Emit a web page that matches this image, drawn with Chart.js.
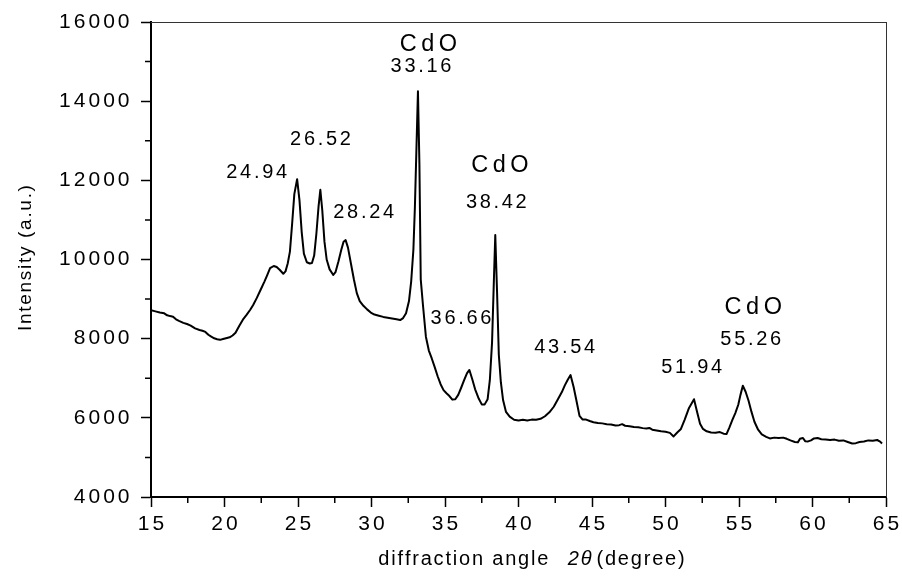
<!DOCTYPE html>
<html>
<head>
<meta charset="utf-8">
<script src="https://cdn.jsdelivr.net/npm/chart.js@4.4.1/dist/chart.umd.min.js"></script>
<style>
  html, body { margin: 0; padding: 0; background: #fff; }
  canvas { display: block; }
</style>
</head>
<body>
<canvas id="xrd" width="902" height="577"></canvas>
<script>
// XRD pattern: diffraction angle 2θ (degree) vs intensity (a.u.)
const angle = [
  15.0, 15.3, 15.6, 15.9, 16.1, 16.3, 16.5, 16.7, 16.9, 17.2, 17.45, 17.7, 18.0, 18.3, 18.5, 18.7, 18.9, 19.1, 19.3, 19.5,
  19.7, 19.9, 20.1, 20.35, 20.55, 20.75, 21.0, 21.25, 21.5, 21.75, 21.95, 22.2, 22.45, 22.7, 22.9, 23.1, 23.35, 23.55, 23.75, 24.0,
  24.15, 24.3, 24.45, 24.6, 24.75, 24.94, 25.1, 25.25, 25.4, 25.6, 25.8, 25.95, 26.1, 26.25, 26.4, 26.52, 26.65, 26.8, 26.95, 27.15,
  27.4, 27.55, 27.75, 27.95, 28.1, 28.24, 28.4, 28.6, 28.8, 29.0, 29.2, 29.45, 29.7, 29.95, 30.2, 30.5, 30.8, 31.1, 31.4, 31.7,
  31.95, 32.15, 32.35, 32.55, 32.7, 32.85, 32.95, 33.05, 33.16, 33.26, 33.35, 33.5, 33.7, 33.9, 34.1, 34.3, 34.5, 34.7, 34.9, 35.1,
  35.3, 35.5, 35.7, 35.9, 36.1, 36.3, 36.5, 36.66, 36.85, 37.05, 37.3, 37.5, 37.7, 37.9, 38.05, 38.2, 38.32, 38.42, 38.54, 38.66,
  38.8, 38.95, 39.15, 39.4, 39.7, 40.0, 40.3, 40.6, 40.9, 41.2, 41.5, 41.8, 42.1, 42.4, 42.7, 42.95, 43.15, 43.35, 43.54, 43.75,
  43.95, 44.15, 44.35, 44.6, 44.85, 45.1, 45.4, 45.7, 46.0, 46.3, 46.6, 46.85, 47.05, 47.25, 47.55, 47.85, 48.15, 48.45, 48.7, 48.9,
  49.1, 49.4, 49.7, 50.0, 50.3, 50.55, 50.8, 51.05, 51.3, 51.6, 51.94, 52.15, 52.35, 52.55, 52.8, 53.1, 53.4, 53.7, 53.95, 54.15,
  54.35, 54.55, 54.75, 54.95, 55.1, 55.26, 55.45, 55.65, 55.85, 56.05, 56.3, 56.55, 56.85, 57.1, 57.4, 57.7, 58.0, 58.25, 58.5, 58.8,
  59.0, 59.15, 59.35, 59.5, 59.7, 59.9, 60.1, 60.35, 60.6, 60.9, 61.2, 61.5, 61.8, 62.1, 62.4, 62.7, 62.95, 63.2, 63.5, 63.8,
  64.1, 64.4, 64.6, 64.73
];
const intensity = [
  8720, 8690, 8660, 8640, 8590, 8570, 8555, 8490, 8450, 8400, 8370, 8330, 8260, 8220, 8200, 8170, 8100, 8050, 8010, 7985,
  7970, 7990, 8010, 8035, 8080, 8150, 8320, 8480, 8600, 8730, 8850, 9030, 9230, 9430, 9600, 9780, 9836, 9810, 9740, 9640,
  9700, 9900, 10200, 10900, 11650, 12030, 11500, 10700, 10150, 9930, 9900, 9910, 10100, 10650, 11350, 11760, 11250, 10450, 10000, 9750,
  9610, 9680, 9950, 10250, 10450, 10490, 10300, 9900, 9500, 9150, 8950, 8830, 8740, 8660, 8610, 8580, 8550, 8530, 8510, 8490,
  8470, 8520, 8640, 8950, 9450, 10250, 11300, 12700, 14250, 12400, 9500, 8850, 8050, 7700, 7500, 7280, 7050, 6850, 6700, 6620,
  6550, 6460, 6470, 6580, 6760, 6950, 7130, 7210, 6980, 6720, 6480, 6340, 6340, 6470, 6950, 7900, 9400, 10620, 9200, 7600,
  6900, 6450, 6150, 6030, 5950, 5930, 5950, 5935, 5955, 5950, 5975, 6040, 6140, 6280, 6480, 6650, 6820, 6960, 7080, 6780,
  6420, 6050, 5960, 5955, 5920, 5890, 5870, 5860, 5840, 5830, 5805, 5815, 5840, 5800, 5790, 5770, 5760, 5740, 5730, 5745,
  5700, 5680, 5660, 5650, 5620, 5530, 5630, 5720, 5950, 6250, 6470, 6150, 5850, 5720, 5660, 5630, 5625, 5640, 5600, 5590,
  5760, 5950, 6120, 6330, 6580, 6810, 6660, 6430, 6150, 5900, 5700, 5580, 5520, 5480, 5500, 5490, 5500, 5470, 5430, 5390,
  5380, 5470, 5490, 5410, 5405, 5430, 5480, 5490, 5460, 5455, 5440, 5450, 5420, 5430, 5390, 5350, 5360, 5390, 5400, 5430,
  5420, 5440, 5400, 5350
];

// Axis ticks
const xTickValues = [15, 20, 25, 30, 35, 40, 45, 50, 55, 60, 65];
const xMinorValues = [17.5, 22.5, 27.5, 32.5, 37.5, 42.5, 47.5, 52.5, 57.5, 62.5];
const yTickValues = [4000, 6000, 8000, 10000, 12000, 14000, 16000];
const yMinorValues = [5000, 7000, 9000, 11000, 13000, 15000];

// Peak annotations (text, anchor angle, anchor intensity)
const peakText = ['24.94', '26.52', '28.24', '33.16', '36.66', '38.42', '43.54', '51.94', '55.26'];
const peakLabelX = [22.19, 26.53, 29.47, 33.37, 36.09, 38.49, 43.14, 51.78, 55.80];
const peakLabelY = [12190, 13020, 11180, 14870, 8500, 11450, 7780, 7280, 7970];
const phaseText = ['CdO', 'CdO', 'CdO'];
const phaseLabelX = [33.87, 38.74, 55.97];
const phaseLabelY = [15440, 12380, 8790];

const SANS = "'Liberation Sans', Arial, Helvetica, sans-serif";

// draws text glyph by glyph with extra tracking
function drawSpaced(ctx, text, x, y, spacing, align) {
  const chars = [...text];
  const widths = chars.map(ch => ctx.measureText(ch).width);
  const total = widths.reduce((a, b) => a + b, 0) + spacing * (chars.length - 1);
  let start = align === 'center' ? x - total / 2 : align === 'right' ? x - total : x;
  ctx.textAlign = 'left';
  chars.forEach((ch, i) => {
    ctx.fillText(ch, start, y);
    start += widths[i] + spacing;
  });
  return total;
}
function spacedWidth(ctx, text, spacing) {
  const chars = [...text];
  return chars.reduce((a, ch) => a + ctx.measureText(ch).width, 0) + spacing * (chars.length - 1);
}

const decorations = {
  id: 'decorations',
  afterDraw(chart) {
    const ctx = chart.ctx;
    const area = chart.chartArea;
    const xs = chart.scales.x;
    const ys = chart.scales.y;
    ctx.save();
    ctx.fillStyle = '#000';
    ctx.strokeStyle = '#000';

    // frame: top and right edges
    ctx.fillStyle = '#333';
    ctx.fillRect(area.left, Math.floor(area.top), area.right - area.left, 1);
    ctx.fillRect(Math.floor(area.right), area.top, 1, area.bottom - area.top);
    ctx.fillStyle = '#000';

    // minor ticks
    ctx.lineWidth = 1.5;
    ctx.beginPath();
    xMinorValues.forEach(v => {
      const px = xs.getPixelForValue(v);
      ctx.moveTo(px, area.bottom);
      ctx.lineTo(px, area.bottom + 6);
    });
    yMinorValues.forEach(v => {
      const py = ys.getPixelForValue(v);
      ctx.moveTo(area.left, py);
      ctx.lineTo(area.left - 6, py);
    });
    ctx.stroke();

    // tick labels
    ctx.textBaseline = 'middle';
    ctx.font = '21px ' + SANS;
    yTickValues.forEach(v => {
      drawSpaced(ctx, String(v), area.left - 21.5, ys.getPixelForValue(v), 3, 'right');
    });
    xTickValues.forEach(v => {
      drawSpaced(ctx, String(v), xs.getPixelForValue(v), area.bottom + 27, 3, 'center');
    });

    // peak annotations
    ctx.font = '20px ' + SANS;
    peakText.forEach((t, i) => {
      drawSpaced(ctx, t, xs.getPixelForValue(peakLabelX[i]), ys.getPixelForValue(peakLabelY[i]), 2.7, 'center');
    });
    ctx.font = '23.5px ' + SANS;
    phaseText.forEach((t, i) => {
      drawSpaced(ctx, t, xs.getPixelForValue(phaseLabelX[i]), ys.getPixelForValue(phaseLabelY[i]), 4.5, 'center');
    });

    // x axis title with italic 2θ
    const parts = [
      { t: 'diffraction angle  ', f: '20px ' + SANS },
      { t: '2θ', f: 'italic 20px ' + SANS },
      { t: '(degree)', f: '20px ' + SANS }
    ];
    const sp = 1.8;
    let total = 0;
    parts.forEach((p, i) => {
      ctx.font = p.f;
      p.w = spacedWidth(ctx, p.t, sp);
      total += p.w + (i < parts.length - 1 ? sp + 3 : 0);
    });
    let xPos = (area.left + area.right) / 2 + 13 - total / 2;
    const yPos = area.bottom + 62.5;
    parts.forEach(p => {
      ctx.font = p.f;
      drawSpaced(ctx, p.t, xPos, yPos, sp, 'left');
      xPos += p.w + sp + 3;
    });

    // y axis title
    ctx.save();
    ctx.translate(30.5, (area.top + area.bottom) / 2 - 1.5);
    ctx.rotate(-Math.PI / 2);
    ctx.font = '19px ' + SANS;
    ctx.textBaseline = 'alphabetic';
    drawSpaced(ctx, 'Intensity (a.u.)', 0, 0, 1.7, 'center');
    ctx.restore();

    ctx.restore();
  }
};

new Chart(document.getElementById('xrd'), {
  type: 'line',
  data: {
    datasets: [{
      data: angle.map((a, i) => ({ x: a, y: intensity[i] })),
      borderColor: '#000',
      borderWidth: 2,
      borderJoinStyle: 'round',
      pointRadius: 0,
      tension: 0,
      fill: false
    }]
  },
  options: {
    responsive: false,
    devicePixelRatio: 1,
    animation: false,
    layout: { padding: { top: 22, right: 16, left: 0, bottom: 0 } },
    plugins: { legend: { display: false }, tooltip: { enabled: false }, title: { display: false } },
    scales: {
      x: {
        type: 'linear',
        min: 15, max: 65,
        afterBuildTicks: s => { s.ticks = xTickValues.map(v => ({ value: v })); },
        afterFit: s => { s.height = 80; },
        ticks: { display: false },
        grid: { drawOnChartArea: false, drawTicks: true, tickLength: 10, tickWidth: 1.5, tickColor: '#000' },
        border: { display: true, color: '#000', width: 2 }
      },
      y: {
        type: 'linear',
        min: 4000, max: 16000,
        afterBuildTicks: s => { s.ticks = yTickValues.map(v => ({ value: v })); },
        afterFit: s => { s.width = 151; },
        ticks: { display: false },
        grid: { drawOnChartArea: false, drawTicks: true, tickLength: 10, tickWidth: 1.5, tickColor: '#000' },
        border: { display: true, color: '#000', width: 2 }
      }
    }
  },
  plugins: [decorations]
});
</script>
</body>
</html>
